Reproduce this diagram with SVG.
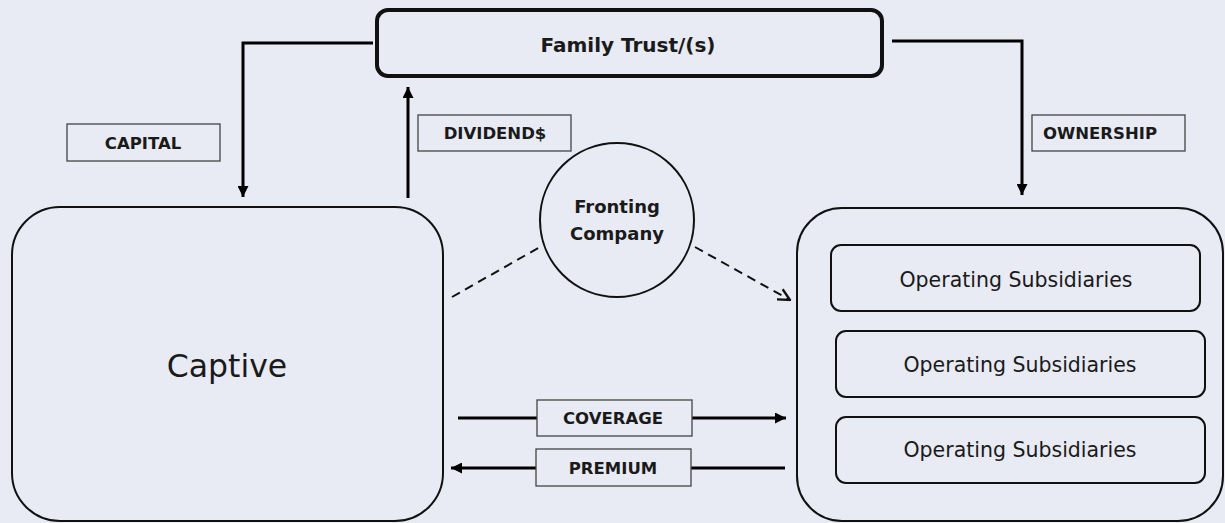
<svg xmlns="http://www.w3.org/2000/svg" width="1225" height="523" viewBox="0 0 1225 523">
  <style>
    .bg { fill: #E8EAF4; }
    .node { fill: none; stroke: #111; stroke-width: 2; }
    .trust { fill: none; stroke: #111; stroke-width: 4; }
    .lbl-box { fill: none; stroke: #444; stroke-width: 1.3; }
    .lbl { font-family: "DejaVu Sans", sans-serif; font-weight: bold; font-size: 16.5px; fill: #1a1a1a; text-anchor: middle; }
    .title { font-family: "DejaVu Sans", sans-serif; font-weight: bold; fill: #1a1a1a; text-anchor: middle; }
    .body { font-family: "DejaVu Sans", sans-serif; fill: #1a1a1a; text-anchor: middle; }
    .flow { fill: none; stroke: #000; stroke-width: 3; }
    .dash { fill: none; stroke: #111; stroke-width: 2; stroke-dasharray: 9 6; }
  </style>
  <defs>
    <marker id="arrow" viewBox="0 0 10 10" refX="10" refY="5" markerWidth="11" markerHeight="11" markerUnits="userSpaceOnUse" orient="auto">
      <path d="M0,0 L10,5 L0,10 z" fill="#000"/>
    </marker>
    <marker id="open-arrow" viewBox="0 0 12 12" refX="11" refY="6" markerWidth="14" markerHeight="14" markerUnits="userSpaceOnUse" orient="auto">
      <path d="M1,1 L11,6 L1,11" fill="none" stroke="#111" stroke-width="2"/>
    </marker>
  </defs>

  <rect class="bg" x="0" y="0" width="1225" height="523"/>

  <!-- connectors -->
  <g id="connectors">
    <polyline class="flow" points="373,43 243,43 243,197" marker-end="url(#arrow)"/>
    <line class="flow" x1="408" y1="198" x2="408" y2="87" marker-end="url(#arrow)"/>
    <polyline class="flow" points="892,41 1022,41 1022,195" marker-end="url(#arrow)"/>
    <line class="dash" x1="452" y1="297" x2="540" y2="247"/>
    <line class="dash" x1="695" y1="247" x2="790" y2="300" marker-end="url(#open-arrow)"/>
    <line class="flow" x1="458" y1="418" x2="537" y2="418"/>
    <line class="flow" x1="692" y1="418" x2="786" y2="418" marker-end="url(#arrow)"/>
    <line class="flow" x1="536" y1="468" x2="451" y2="468" marker-end="url(#arrow)"/>
    <line class="flow" x1="785" y1="468" x2="691" y2="468"/>
  </g>

  <!-- connector labels -->
  <g id="label-capital">
    <rect class="lbl-box" x="67" y="124" width="153" height="37"/>
    <text class="lbl" x="143" y="149">CAPITAL</text>
  </g>
  <g id="label-dividends">
    <rect class="lbl-box" x="418" y="115" width="153" height="36"/>
    <text class="lbl" x="495" y="139">DIVIDEND$</text>
  </g>
  <g id="label-ownership">
    <rect class="lbl-box" x="1032" y="115" width="153" height="36"/>
    <text class="lbl" x="1100" y="139">OWNERSHIP</text>
  </g>
  <g id="label-coverage">
    <rect class="lbl-box" x="537" y="400" width="155" height="36"/>
    <text class="lbl" x="613" y="424">COVERAGE</text>
  </g>
  <g id="label-premium">
    <rect class="lbl-box" x="536" y="449" width="155" height="37"/>
    <text class="lbl" x="613" y="474">PREMIUM</text>
  </g>

  <!-- nodes -->
  <g id="family-trust">
    <rect class="trust" x="377" y="10" width="505" height="66" rx="11"/>
    <text class="title" x="628" y="52" font-size="20">Family Trust/(s)</text>
  </g>

  <g id="fronting-company">
    <circle class="node" cx="617" cy="220" r="77"/>
    <text class="title" x="617" y="213" font-size="18">Fronting</text>
    <text class="title" x="617" y="240" font-size="18">Company</text>
  </g>

  <g id="captive">
    <rect class="node" x="12" y="207" width="431" height="314" rx="48"/>
    <text class="body" x="227" y="377" font-size="31.5">Captive</text>
  </g>

  <g id="subsidiaries">
    <rect class="node" x="797" y="208" width="426" height="313" rx="45"/>
    <g id="subsidiary-1">
      <rect class="node" x="831" y="245" width="369" height="66" rx="10"/>
      <text class="body" x="1016" y="287" font-size="20.5">Operating Subsidiaries</text>
    </g>
    <g id="subsidiary-2">
      <rect class="node" x="836" y="331" width="369" height="66" rx="10"/>
      <text class="body" x="1020" y="372" font-size="20.5">Operating Subsidiaries</text>
    </g>
    <g id="subsidiary-3">
      <rect class="node" x="836" y="417" width="369" height="66" rx="10"/>
      <text class="body" x="1020" y="457" font-size="20.5">Operating Subsidiaries</text>
    </g>
  </g>
</svg>
